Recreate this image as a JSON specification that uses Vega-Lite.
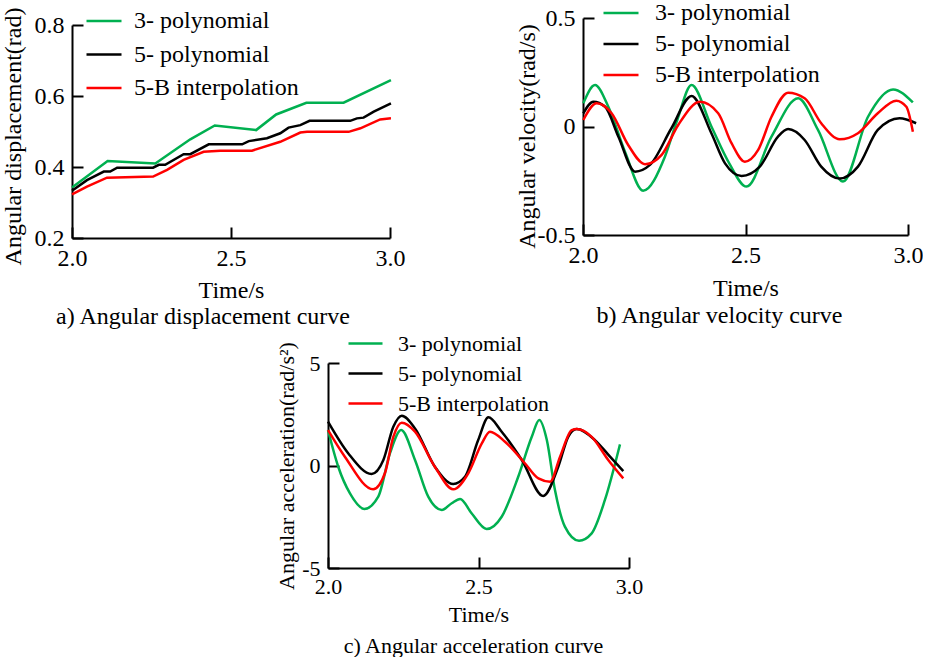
{
  "$schema": "https://vega.github.io/schema/vega-lite/v6.json",
  "padding": {"left": 0, "top": -6, "right": 0, "bottom": 0},
  "background": "white",
  "datasets": {
    "a": [
      {"t": 2.0, "v": 0.342, "s": "3- polynomial"},
      {"t": 2.112, "v": 0.417, "s": "3- polynomial"},
      {"t": 2.262, "v": 0.41, "s": "3- polynomial"},
      {"t": 2.372, "v": 0.478, "s": "3- polynomial"},
      {"t": 2.449, "v": 0.517, "s": "3- polynomial"},
      {"t": 2.579, "v": 0.504, "s": "3- polynomial"},
      {"t": 2.642, "v": 0.548, "s": "3- polynomial"},
      {"t": 2.737, "v": 0.581, "s": "3- polynomial"},
      {"t": 2.854, "v": 0.581, "s": "3- polynomial"},
      {"t": 3.003, "v": 0.645, "s": "3- polynomial"},
      {"t": 2.0, "v": 0.333, "s": "5- polynomial"},
      {"t": 2.047, "v": 0.363, "s": "5- polynomial"},
      {"t": 2.1, "v": 0.387, "s": "5- polynomial"},
      {"t": 2.12, "v": 0.387, "s": "5- polynomial"},
      {"t": 2.142, "v": 0.398, "s": "5- polynomial"},
      {"t": 2.255, "v": 0.398, "s": "5- polynomial"},
      {"t": 2.273, "v": 0.406, "s": "5- polynomial"},
      {"t": 2.293, "v": 0.406, "s": "5- polynomial"},
      {"t": 2.351, "v": 0.436, "s": "5- polynomial"},
      {"t": 2.372, "v": 0.436, "s": "5- polynomial"},
      {"t": 2.43, "v": 0.464, "s": "5- polynomial"},
      {"t": 2.535, "v": 0.464, "s": "5- polynomial"},
      {"t": 2.556, "v": 0.473, "s": "5- polynomial"},
      {"t": 2.613, "v": 0.481, "s": "5- polynomial"},
      {"t": 2.655, "v": 0.495, "s": "5- polynomial"},
      {"t": 2.681, "v": 0.511, "s": "5- polynomial"},
      {"t": 2.718, "v": 0.518, "s": "5- polynomial"},
      {"t": 2.747, "v": 0.53, "s": "5- polynomial"},
      {"t": 2.875, "v": 0.53, "s": "5- polynomial"},
      {"t": 2.896, "v": 0.537, "s": "5- polynomial"},
      {"t": 2.917, "v": 0.539, "s": "5- polynomial"},
      {"t": 2.949, "v": 0.556, "s": "5- polynomial"},
      {"t": 3.003, "v": 0.579, "s": "5- polynomial"},
      {"t": 2.0, "v": 0.323, "s": "5-B interpolation"},
      {"t": 2.047, "v": 0.345, "s": "5-B interpolation"},
      {"t": 2.11, "v": 0.37, "s": "5-B interpolation"},
      {"t": 2.255, "v": 0.373, "s": "5-B interpolation"},
      {"t": 2.299, "v": 0.392, "s": "5-B interpolation"},
      {"t": 2.351, "v": 0.42, "s": "5-B interpolation"},
      {"t": 2.414, "v": 0.443, "s": "5-B interpolation"},
      {"t": 2.466, "v": 0.446, "s": "5-B interpolation"},
      {"t": 2.566, "v": 0.446, "s": "5-B interpolation"},
      {"t": 2.655, "v": 0.471, "s": "5-B interpolation"},
      {"t": 2.718, "v": 0.497, "s": "5-B interpolation"},
      {"t": 2.739, "v": 0.499, "s": "5-B interpolation"},
      {"t": 2.87, "v": 0.499, "s": "5-B interpolation"},
      {"t": 2.907, "v": 0.509, "s": "5-B interpolation"},
      {"t": 2.969, "v": 0.534, "s": "5-B interpolation"},
      {"t": 3.003, "v": 0.537, "s": "5-B interpolation"}
    ],
    "b": [
      {"t": 2.001, "v": 0.107, "s": "3- polynomial"},
      {"t": 2.037, "v": 0.191, "s": "3- polynomial"},
      {"t": 2.078, "v": 0.091, "s": "3- polynomial"},
      {"t": 2.13, "v": -0.12, "s": "3- polynomial"},
      {"t": 2.185, "v": -0.296, "s": "3- polynomial"},
      {"t": 2.252, "v": -0.139, "s": "3- polynomial"},
      {"t": 2.29, "v": 0.03, "s": "3- polynomial"},
      {"t": 2.334, "v": 0.191, "s": "3- polynomial"},
      {"t": 2.395, "v": 0.0, "s": "3- polynomial"},
      {"t": 2.45, "v": -0.17, "s": "3- polynomial"},
      {"t": 2.503, "v": -0.277, "s": "3- polynomial"},
      {"t": 2.58, "v": -0.047, "s": "3- polynomial"},
      {"t": 2.662, "v": 0.13, "s": "3- polynomial"},
      {"t": 2.723, "v": -0.016, "s": "3- polynomial"},
      {"t": 2.8, "v": -0.254, "s": "3- polynomial"},
      {"t": 2.877, "v": 0.045, "s": "3- polynomial"},
      {"t": 2.954, "v": 0.171, "s": "3- polynomial"},
      {"t": 3.015, "v": 0.111, "s": "3- polynomial"},
      {"t": 2.001, "v": 0.061, "s": "5- polynomial"},
      {"t": 2.032, "v": 0.114, "s": "5- polynomial"},
      {"t": 2.068, "v": 0.091, "s": "5- polynomial"},
      {"t": 2.109, "v": -0.047, "s": "5- polynomial"},
      {"t": 2.16, "v": -0.208, "s": "5- polynomial"},
      {"t": 2.206, "v": -0.177, "s": "5- polynomial"},
      {"t": 2.272, "v": -0.008, "s": "5- polynomial"},
      {"t": 2.334, "v": 0.141, "s": "5- polynomial"},
      {"t": 2.395, "v": -0.031, "s": "5- polynomial"},
      {"t": 2.437, "v": -0.17, "s": "5- polynomial"},
      {"t": 2.488, "v": -0.228, "s": "5- polynomial"},
      {"t": 2.544, "v": -0.185, "s": "5- polynomial"},
      {"t": 2.6, "v": -0.047, "s": "5- polynomial"},
      {"t": 2.631, "v": -0.012, "s": "5- polynomial"},
      {"t": 2.682, "v": -0.062, "s": "5- polynomial"},
      {"t": 2.733, "v": -0.185, "s": "5- polynomial"},
      {"t": 2.79, "v": -0.24, "s": "5- polynomial"},
      {"t": 2.846, "v": -0.185, "s": "5- polynomial"},
      {"t": 2.907, "v": -0.016, "s": "5- polynomial"},
      {"t": 2.974, "v": 0.038, "s": "5- polynomial"},
      {"t": 3.025, "v": 0.015, "s": "5- polynomial"},
      {"t": 2.001, "v": 0.03, "s": "5-B interpolation"},
      {"t": 2.042, "v": 0.107, "s": "5-B interpolation"},
      {"t": 2.088, "v": 0.061, "s": "5-B interpolation"},
      {"t": 2.139, "v": -0.085, "s": "5-B interpolation"},
      {"t": 2.191, "v": -0.174, "s": "5-B interpolation"},
      {"t": 2.242, "v": -0.131, "s": "5-B interpolation"},
      {"t": 2.293, "v": 0.007, "s": "5-B interpolation"},
      {"t": 2.36, "v": 0.114, "s": "5-B interpolation"},
      {"t": 2.416, "v": 0.061, "s": "5-B interpolation"},
      {"t": 2.457, "v": -0.077, "s": "5-B interpolation"},
      {"t": 2.498, "v": -0.162, "s": "5-B interpolation"},
      {"t": 2.539, "v": -0.108, "s": "5-B interpolation"},
      {"t": 2.58, "v": 0.045, "s": "5-B interpolation"},
      {"t": 2.631, "v": 0.156, "s": "5-B interpolation"},
      {"t": 2.682, "v": 0.13, "s": "5-B interpolation"},
      {"t": 2.733, "v": 0.015, "s": "5-B interpolation"},
      {"t": 2.79, "v": -0.059, "s": "5-B interpolation"},
      {"t": 2.846, "v": -0.031, "s": "5-B interpolation"},
      {"t": 2.907, "v": 0.061, "s": "5-B interpolation"},
      {"t": 2.964, "v": 0.119, "s": "5-B interpolation"},
      {"t": 2.995, "v": 0.091, "s": "5-B interpolation"},
      {"t": 3.015, "v": -0.024, "s": "5-B interpolation"}
    ],
    "c": [
      {"t": 2.0, "v": 1.73, "s": "3- polynomial"},
      {"t": 2.034, "v": -0.06, "s": "3- polynomial"},
      {"t": 2.073, "v": -1.36, "s": "3- polynomial"},
      {"t": 2.121, "v": -2.12, "s": "3- polynomial"},
      {"t": 2.167, "v": -1.52, "s": "3- polynomial"},
      {"t": 2.206, "v": 0.6, "s": "3- polynomial"},
      {"t": 2.243, "v": 1.73, "s": "3- polynomial"},
      {"t": 2.289, "v": 0.27, "s": "3- polynomial"},
      {"t": 2.333, "v": -1.52, "s": "3- polynomial"},
      {"t": 2.378, "v": -2.17, "s": "3- polynomial"},
      {"t": 2.411, "v": -1.84, "s": "3- polynomial"},
      {"t": 2.439, "v": -1.63, "s": "3- polynomial"},
      {"t": 2.477, "v": -2.33, "s": "3- polynomial"},
      {"t": 2.527, "v": -3.1, "s": "3- polynomial"},
      {"t": 2.577, "v": -2.5, "s": "3- polynomial"},
      {"t": 2.632, "v": -0.55, "s": "3- polynomial"},
      {"t": 2.677, "v": 1.4, "s": "3- polynomial"},
      {"t": 2.702, "v": 2.22, "s": "3- polynomial"},
      {"t": 2.727, "v": 1.24, "s": "3- polynomial"},
      {"t": 2.754, "v": -1.2, "s": "3- polynomial"},
      {"t": 2.787, "v": -2.98, "s": "3- polynomial"},
      {"t": 2.834, "v": -3.67, "s": "3- polynomial"},
      {"t": 2.876, "v": -3.31, "s": "3- polynomial"},
      {"t": 2.92, "v": -1.68, "s": "3- polynomial"},
      {"t": 2.97, "v": 1.03, "s": "3- polynomial"},
      {"t": 2.0, "v": 2.14, "s": "5- polynomial"},
      {"t": 2.067, "v": 0.6, "s": "5- polynomial"},
      {"t": 2.145, "v": -0.41, "s": "5- polynomial"},
      {"t": 2.184, "v": 0.27, "s": "5- polynomial"},
      {"t": 2.217, "v": 1.89, "s": "5- polynomial"},
      {"t": 2.245, "v": 2.43, "s": "5- polynomial"},
      {"t": 2.289, "v": 1.81, "s": "5- polynomial"},
      {"t": 2.355, "v": -0.06, "s": "5- polynomial"},
      {"t": 2.416, "v": -0.9, "s": "5- polynomial"},
      {"t": 2.455, "v": -0.55, "s": "5- polynomial"},
      {"t": 2.499, "v": 1.24, "s": "5- polynomial"},
      {"t": 2.533, "v": 2.35, "s": "5- polynomial"},
      {"t": 2.577, "v": 1.65, "s": "5- polynomial"},
      {"t": 2.644, "v": 0.27, "s": "5- polynomial"},
      {"t": 2.715, "v": -1.49, "s": "5- polynomial"},
      {"t": 2.765, "v": -0.06, "s": "5- polynomial"},
      {"t": 2.798, "v": 1.4, "s": "5- polynomial"},
      {"t": 2.826, "v": 1.78, "s": "5- polynomial"},
      {"t": 2.887, "v": 1.24, "s": "5- polynomial"},
      {"t": 2.937, "v": 0.43, "s": "5- polynomial"},
      {"t": 2.981, "v": -0.27, "s": "5- polynomial"},
      {"t": 2.0, "v": 1.73, "s": "5-B interpolation"},
      {"t": 2.056, "v": 0.43, "s": "5-B interpolation"},
      {"t": 2.15, "v": -1.16, "s": "5-B interpolation"},
      {"t": 2.189, "v": -0.38, "s": "5-B interpolation"},
      {"t": 2.217, "v": 1.4, "s": "5-B interpolation"},
      {"t": 2.245, "v": 2.09, "s": "5-B interpolation"},
      {"t": 2.289, "v": 1.65, "s": "5-B interpolation"},
      {"t": 2.355, "v": -0.06, "s": "5-B interpolation"},
      {"t": 2.416, "v": -1.16, "s": "5-B interpolation"},
      {"t": 2.466, "v": -0.38, "s": "5-B interpolation"},
      {"t": 2.511, "v": 1.08, "s": "5-B interpolation"},
      {"t": 2.538, "v": 1.65, "s": "5-B interpolation"},
      {"t": 2.588, "v": 1.16, "s": "5-B interpolation"},
      {"t": 2.654, "v": 0.11, "s": "5-B interpolation"},
      {"t": 2.699, "v": -0.63, "s": "5-B interpolation"},
      {"t": 2.738, "v": -0.79, "s": "5-B interpolation"},
      {"t": 2.771, "v": 0.43, "s": "5-B interpolation"},
      {"t": 2.81, "v": 1.73, "s": "5-B interpolation"},
      {"t": 2.826, "v": 1.78, "s": "5-B interpolation"},
      {"t": 2.876, "v": 1.4, "s": "5-B interpolation"},
      {"t": 2.931, "v": 0.27, "s": "5-B interpolation"},
      {"t": 2.981, "v": -0.63, "s": "5-B interpolation"}
    ]
  },
  "spacing": -4,
  "resolve": {"scale": {"color": "independent"}, "legend": {"color": "independent"}},
  "vconcat": [
    {
      "spacing": 110,
      "resolve": {"scale": {"color": "independent"}, "legend": {"color": "independent"}},
      "hconcat": [
        {
          "width": 318,
          "height": 220,
          "data": {"name": "a"},
          "title": {"text": "a) Angular displacement curve", "dx": -28, "offset": 3},
          "mark": {"type": "line", "strokeWidth": 2.5},
          "encoding": {
            "x": {"field": "t", "type": "quantitative", "scale": {"domain": [2, 3], "nice": false, "zero": false},
                  "axis": {"values": [2, 2.5, 3], "format": ".1f", "title": "Time/s", "titlePadding": 8}},
            "y": {"field": "v", "type": "quantitative", "scale": {"domain": [0.2, 0.8], "nice": false, "zero": false, "range": [220, 7]},
                  "axis": {"values": [0.2, 0.4, 0.6, 0.8], "format": ".1f", "title": "Angular displacement(rad)", "titlePadding": 9, "titleY": 118}},
            "color": {"field": "s", "type": "nominal",
                      "scale": {"domain": ["3- polynomial", "5- polynomial", "5-B interpolation"], "range": ["#00B050", "#000000", "#FF0000"]},
                      "legend": {"legendX": 13, "legendY": -16, "rowPadding": 2.5, "labelOffset": 11}}
          }
        },
        {
          "width": 325,
          "height": 217,
          "data": {"name": "b"},
          "title": {"text": "b) Angular velocity curve", "dx": -26, "offset": 4},
          "mark": {"type": "line", "strokeWidth": 2.5, "interpolate": "monotone"},
          "encoding": {
            "x": {"field": "t", "type": "quantitative", "scale": {"domain": [2, 3], "nice": false, "zero": false},
                  "axis": {"values": [2, 2.5, 3], "format": ".1f", "title": "Time/s", "titlePadding": 9}},
            "y": {"field": "v", "type": "quantitative", "scale": {"domain": [-0.5, 0.5], "nice": false, "zero": false},
                  "axis": {"values": [-0.5, 0, 0.5], "labelExpr": "'' + datum.value", "title": "Angular velocity(rad/s)", "titlePadding": -2, "titleY": 118}},
            "color": {"field": "s", "type": "nominal",
                      "scale": {"domain": ["3- polynomial", "5- polynomial", "5-B interpolation"], "range": ["#00B050", "#000000", "#FF0000"]},
                      "legend": {"legendX": 19, "legendY": -24, "rowPadding": 0, "labelOffset": 15}}
          }
        }
      ]
    },
    {
      "spacing": 0,
      "resolve": {"scale": {"color": "independent"}, "legend": {"color": "independent"}},
      "hconcat": [
        {
          "width": 203,
          "height": 1,
          "data": {"values": []},
          "mark": {"type": "rule"},
          "encoding": {}
        },
        {
          "width": 301,
          "height": 205,
          "data": {"name": "c"},
          "title": {"text": "c) Angular acceleration curve", "dx": -5, "offset": 11, "fontSize": 22},
          "mark": {"type": "line", "strokeWidth": 2.5, "interpolate": "monotone"},
          "encoding": {
            "x": {"field": "t", "type": "quantitative", "scale": {"domain": [2, 3], "nice": false, "zero": false},
                  "axis": {"values": [2, 2.5, 3], "format": ".1f", "title": "Time/s", "labelFontSize": 22, "titleFontSize": 22, "titlePadding": 7}},
            "y": {"field": "v", "type": "quantitative", "scale": {"domain": [-5, 5], "nice": false, "zero": false},
                  "axis": {"values": [-5, 0, 5], "labelExpr": "'' + datum.value", "title": "Angular acceleration(rad/s²)", "titlePadding": 3, "labelFontSize": 22, "titleFontSize": 22}},
            "color": {"field": "s", "type": "nominal",
                      "scale": {"domain": ["3- polynomial", "5- polynomial", "5-B interpolation"], "range": ["#00B050", "#000000", "#FF0000"]},
                      "legend": {"legendX": 19, "legendY": -38, "rowPadding": 0, "labelFontSize": 22, "symbolSize": 1156, "labelOffset": 14}}
          }
        }
      ]
    }
  ],
  "config": {
    "font": "Liberation Serif",
    "view": {"stroke": null},
    "axis": {
      "grid": false, "domainColor": "#000000", "domainWidth": 2, "tickColor": "#000000", "tickWidth": 2,
      "tickSize": -11, "labelPadding": 19, "labelFont": "Liberation Serif", "labelFontSize": 24, "labelColor": "#000000",
      "labelFlush": false, "labelOverlap": false, "titleFont": "Liberation Serif", "titleFontSize": 24,
      "titleFontWeight": "normal", "titleColor": "#000000", "titlePadding": 8
    },
    "legend": {
      "orient": "none", "title": null, "symbolType": "stroke", "symbolSize": 1225, "symbolStrokeWidth": 2.5,
      "labelFont": "Liberation Serif", "labelFontSize": 24, "labelColor": "#000000", "labelOffset": 15, "padding": 0, "labelLimit": 400
    },
    "title": {"font": "Liberation Serif", "fontSize": 24, "fontWeight": "normal", "color": "#000000", "orient": "bottom", "frame": "group", "anchor": "middle"}
  }
}
